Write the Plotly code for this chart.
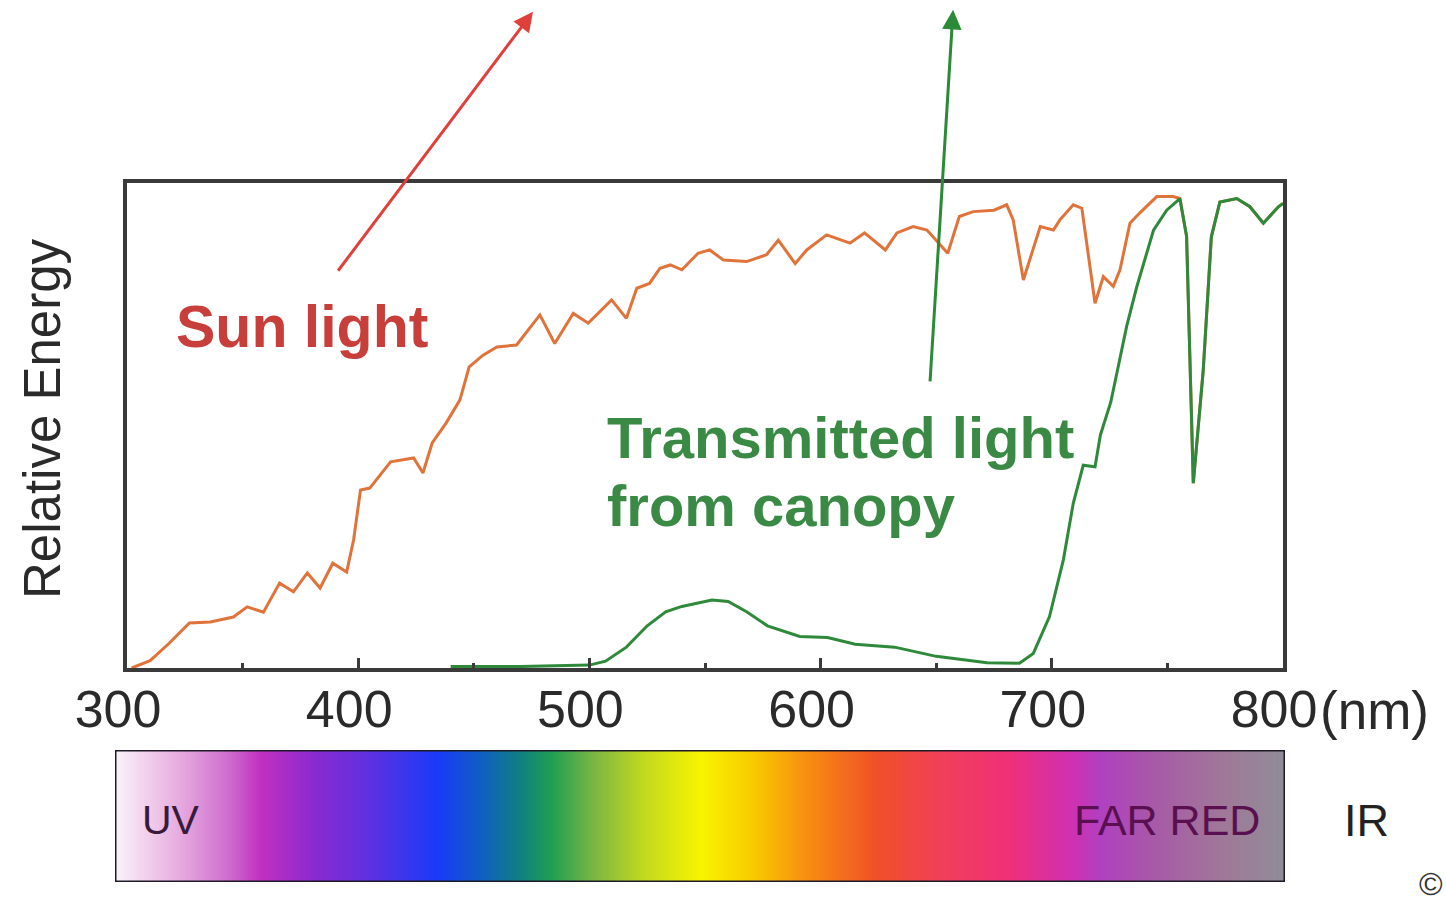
import plotly.graph_objects as go

# ---------------- data ----------------
sun_nm = [302, 310, 318, 327, 336, 346, 352, 359, 366, 372, 378, 383.5, 389, 395, 398, 401, 405,
          414, 424, 428, 432, 438, 444, 448, 454, 460, 468.5, 478.6, 485, 493, 499.5, 509.6, 516,
          520.5, 526, 530.5, 535, 540, 547, 552, 558, 568, 576.6, 581.7, 589, 594, 602.6, 612.7,
          619, 628, 633, 640, 646, 650, 655, 660, 666, 675, 680.5, 683.3, 687.7, 695, 700.7, 703.5,
          709.3, 713, 718.7, 722.3, 726.6, 729.5, 733.8, 738, 745.4, 752.5, 755.4, 758.3, 761.2,
          765.5, 769, 772.7, 780, 785.7, 791.5, 798, 800]
sun_energy = [0.0, 1.5, 5.0, 9.3, 9.5, 10.5, 12.6, 11.5, 17.5, 15.7, 19.6, 16.5, 21.6, 19.8, 26.4,
              36.7, 37.1, 42.5, 43.3, 40.2, 46.4, 50.5, 55.3, 62.1, 64.5, 66.2, 66.6, 72.8, 66.9,
              73.1, 71.1, 75.9, 72.1, 78.3, 79.3, 82.4, 83.1, 82.1, 85.5, 86.2, 84.1, 83.8, 85.2,
              88.2, 83.4, 86.2, 89.3, 87.6, 89.7, 86.2, 89.7, 91.0, 90.3, 88.2, 85.5, 93.1, 94.1,
              94.4, 95.5, 92.4, 80.0, 91.0, 90.3, 92.4, 95.5, 94.8, 75.2, 80.7, 78.7, 82.1, 91.7,
              93.8, 97.2, 97.2, 96.8, 89.0, 38.1, 61.4, 88.9, 96.1, 96.8, 95.1, 91.7, 95.1, 95.8]

canopy_nm = [440, 470, 500, 507, 516, 525, 533, 540, 553, 560, 568, 577, 591, 603, 615, 632, 650,
             672, 686, 692, 699, 705, 709.3, 713.6, 718.7, 721, 725.5, 732.4, 736.7, 744, 749.7,
             755.4, 758.3, 761.2, 765.5, 769, 772.7, 780, 785.7, 791.5, 798, 800]
canopy_energy = [0.3, 0.3, 0.6, 1.4, 4.3, 8.7, 11.6, 12.7, 14.0, 13.7, 11.6, 8.7, 6.5, 6.3, 4.9,
                 4.3, 2.4, 1.1, 1.0, 3.0, 10.6, 22.3, 34.0, 41.8, 41.5, 48.0, 54.8, 70.5, 78.5,
                 90.3, 94.4, 96.8, 89.0, 38.1, 61.4, 88.9, 96.1, 96.8, 95.1, 91.7, 95.1, 95.8]

tick_vals = [300, 400, 500, 600, 700, 800]
tick_text = ["300", "400", "500", "600", "700", "800"]

# spectrum colour bar (wavelength -> colour)
spectrum_nm = [295, 321, 343, 358, 381, 404, 434, 454, 470, 484, 503, 523, 548, 572, 593, 624,
               651, 681, 708, 721, 743, 774, 801]
spectrum_colors = ["#faf2fa", "#e8b0e0", "#d070d0", "#c030c0", "#8a2ad0", "#6030e0", "#1a3af8",
                   "#1060c0", "#108080", "#20a050", "#80b840", "#c0d820", "#f8f400", "#f8c800",
                   "#f89010", "#f05028", "#f04058", "#f03078", "#d030b0", "#b040c0", "#a858a8",
                   "#a07898", "#908c98"]

FONT = "Liberation Sans, Arial, sans-serif"
W, H = 1446, 901

fig = go.Figure()

# spectrum bar as a heatmap on a second axis pair
bar_x = list(range(295, 802))
zmin, zmax = spectrum_nm[0], spectrum_nm[-1]
cscale = [[(n - zmin) / (zmax - zmin), c] for n, c in zip(spectrum_nm, spectrum_colors)]
fig.add_trace(go.Heatmap(x=bar_x, y=[0], z=[bar_x], colorscale=cscale, zmin=zmin, zmax=zmax,
                         showscale=False, zsmooth="best", hoverinfo="skip",
                         xaxis="x2", yaxis="y2"))

fig.add_trace(go.Scatter(x=sun_nm, y=sun_energy, mode="lines", name="Sun light",
                         line=dict(color="#e0733a", width=3)))
fig.add_trace(go.Scatter(x=canopy_nm, y=canopy_energy, mode="lines",
                         name="Transmitted light from canopy",
                         line=dict(color="#2e8a3a", width=3)))

frame = "#3a3a3a"
fig.update_layout(
    width=W, height=H,
    margin=dict(l=0, r=0, t=0, b=0, autoexpand=False),
    paper_bgcolor="white", plot_bgcolor="white",
    showlegend=False,
    font=dict(family=FONT, color="#222222"),
    xaxis=dict(domain=[127 / W, 1283 / W], range=[300, 800], tickvals=tick_vals,
               ticktext=tick_text, ticks="inside", ticklen=10, tickwidth=3, tickcolor=frame,
               minor=dict(dtick=50, ticks="inside", ticklen=5, tickwidth=3, tickcolor=frame),
               showline=True, linecolor=frame, linewidth=4, mirror=True, showgrid=False,
               zeroline=False, tickfont=dict(size=52, color="#2a2a2a"), ticklabelstandoff=-7,
               ticklabelshift=-9, fixedrange=True),
    yaxis=dict(domain=[(H - 668) / H, (H - 183) / H], range=[0, 100], showticklabels=False,
               ticks="", showline=True, linecolor=frame, linewidth=4, mirror=True,
               showgrid=False, zeroline=False, fixedrange=True),
    xaxis2=dict(domain=[115 / W, 1285 / W], range=[295, 801], anchor="y2", visible=False,
                fixedrange=True),
    yaxis2=dict(domain=[(H - 882) / H, (H - 750) / H], range=[-0.5, 0.5], anchor="x2",
                visible=False, fixedrange=True),
)

# frame around the spectrum bar
fig.add_shape(type="rect", xref="x2", yref="y2", x0=295, x1=801, y0=-0.5, y1=0.5,
              line=dict(color="#1e1a28", width=3))

ann = []
# arrows
ann.append(dict(x=475.6, y=135.3, ax=390.8, ay=81.6, xref="x", yref="y", axref="x", ayref="y",
                showarrow=True, arrowhead=2, arrowsize=1.3, arrowwidth=3, arrowcolor="#e0403c",
                text=""))
ann.append(dict(x=657.3, y=135.7, ax=647.3, ay=58.8, xref="x", yref="y", axref="x", ayref="y",
                showarrow=True, arrowhead=2, arrowsize=1.3, arrowwidth=3, arrowcolor="#2a8a36",
                text=""))
# labels
ann.append(dict(x=375.7, y=70.3, xref="x", yref="y", text="<b>Sun light</b>", showarrow=False,
                font=dict(size=59, color="#c83e3a", family=FONT), xanchor="center",
                yanchor="middle"))
ann.append(dict(x=506.7, y=47.5, xref="x", yref="y", text="<b>Transmitted light</b>",
                showarrow=False, font=dict(size=58, color="#3a8a45", family=FONT),
                xanchor="left", yanchor="middle"))
ann.append(dict(x=506.7, y=33.5, xref="x", yref="y", text="<b>from canopy</b>",
                showarrow=False, font=dict(size=58, color="#3a8a45", family=FONT),
                xanchor="left", yanchor="middle"))
# y title
ann.append(dict(x=42 / W, y=(H - 419) / H, xref="paper", yref="paper", text="Relative Energy",
                textangle=-90, showarrow=False, font=dict(size=51, color="#2a2a2a", family=FONT),
                xanchor="center", yanchor="middle"))
# unit
ann.append(dict(x=1318 / W, y=(H - 710) / H, xref="paper", yref="paper", text="(nm)",
                showarrow=False, font=dict(size=53, color="#2a2a2a", family=FONT),
                xanchor="left", yanchor="middle"))
# spectrum labels
ann.append(dict(x=140 / W, y=(H - 820) / H, xref="paper", yref="paper", text="UV",
                showarrow=False, font=dict(size=41, color="#3a1a3a", family=FONT),
                xanchor="left", yanchor="middle"))
ann.append(dict(x=1262 / W, y=(H - 820) / H, xref="paper", yref="paper", text="FAR RED",
                showarrow=False, font=dict(size=43, color="#5a1050", family=FONT),
                xanchor="right", yanchor="middle"))
ann.append(dict(x=1366 / W, y=(H - 820) / H, xref="paper", yref="paper", text="IR",
                showarrow=False, font=dict(size=45, color="#222222", family=FONT),
                xanchor="center", yanchor="middle"))
ann.append(dict(x=1445 / W, y=(H - 884) / H, xref="paper", yref="paper", text="©",
                showarrow=False, font=dict(size=32, color="#333333", family=FONT),
                xanchor="right", yanchor="middle"))
fig.update_layout(annotations=ann)

fig.write_html("out.html", config={"displayModeBar": False},
               post_script="document.body.style.margin='0';")
